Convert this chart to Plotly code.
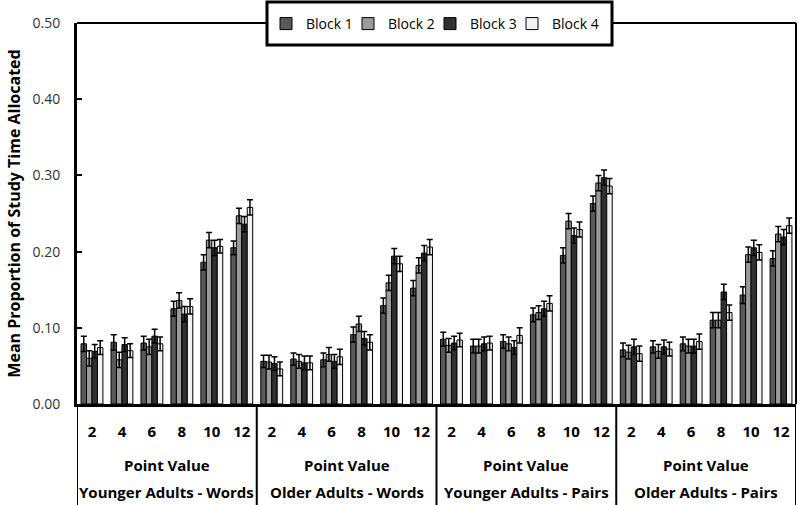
import plotly.graph_objects as go

point_values = [2, 4, 6, 8, 10, 12]
groups = ["Younger Adults - Words", "Older Adults - Words",
          "Younger Adults - Pairs", "Older Adults - Pairs"]
blocks = ["Block 1", "Block 2", "Block 3", "Block 4"]

block1 = [0.079, 0.081, 0.080, 0.125, 0.186, 0.205,
          0.056, 0.059, 0.058, 0.091, 0.129, 0.152,
          0.085, 0.076, 0.082, 0.117, 0.195, 0.263,
          0.071, 0.075, 0.079, 0.110, 0.143, 0.191]
block2 = [0.060, 0.058, 0.075, 0.136, 0.215, 0.247,
          0.055, 0.056, 0.065, 0.105, 0.159, 0.182,
          0.077, 0.076, 0.079, 0.120, 0.240, 0.290,
          0.068, 0.069, 0.076, 0.110, 0.196, 0.223]
block3 = [0.069, 0.078, 0.089, 0.118, 0.205, 0.236,
          0.053, 0.054, 0.056, 0.086, 0.194, 0.198,
          0.080, 0.079, 0.074, 0.125, 0.221, 0.297,
          0.075, 0.075, 0.076, 0.147, 0.205, 0.219]
block4 = [0.074, 0.070, 0.079, 0.128, 0.207, 0.258,
          0.046, 0.054, 0.062, 0.081, 0.184, 0.206,
          0.084, 0.080, 0.090, 0.132, 0.229, 0.286,
          0.066, 0.072, 0.082, 0.120, 0.199, 0.234]

err1 = [0.010, 0.010, 0.009, 0.010, 0.010, 0.009,
        0.008, 0.008, 0.009, 0.010, 0.010, 0.010,
        0.009, 0.009, 0.009, 0.009, 0.010, 0.010,
        0.009, 0.008, 0.009, 0.010, 0.011, 0.010]
err2 = [0.010, 0.010, 0.010, 0.010, 0.010, 0.010,
        0.009, 0.009, 0.009, 0.010, 0.010, 0.010,
        0.009, 0.009, 0.009, 0.009, 0.010, 0.010,
        0.009, 0.009, 0.009, 0.010, 0.010, 0.010]
err3 = [0.009, 0.009, 0.009, 0.010, 0.010, 0.010,
        0.009, 0.009, 0.009, 0.009, 0.010, 0.010,
        0.009, 0.009, 0.009, 0.010, 0.010, 0.010,
        0.010, 0.009, 0.009, 0.010, 0.010, 0.010]
err4 = [0.009, 0.009, 0.009, 0.010, 0.009, 0.010,
        0.009, 0.009, 0.010, 0.010, 0.010, 0.010,
        0.009, 0.009, 0.010, 0.010, 0.010, 0.010,
        0.010, 0.009, 0.010, 0.010, 0.010, 0.010]

series = [block1, block2, block3, block4]
errors = [err1, err2, err3, err4]
colors = ["#595959", "#9b9b9b", "#303030", "#f2f2f2"]

n_pts = len(point_values)
x_idx = list(range(len(groups) * n_pts))
tick_text = [str(p) for _ in groups for p in point_values]

FONT = "Open Sans"

W, H = 800, 505
ML, MR, MT, MB = 77, 4, 23, 101
PW, PH = W - ML - MR, H - MT - MB


def px_x(px):
    return (px - ML) / PW


def px_y(py):
    return (H - MB - py) / PH


fig = go.Figure()
for i, (name, vals, err, col) in enumerate(zip(blocks, series, errors, colors)):
    fig.add_trace(go.Bar(
        x=x_idx, y=vals, name=name,
        legendwidth=52 if i == len(blocks) - 1 else 37,
        marker=dict(color=col, line=dict(color="#000000", width=1)),
        error_y=dict(type="data", array=err, visible=True,
                     color="#000000", thickness=1.5, width=3),
    ))

n = len(x_idx)
shapes = []
# top and right frame
shapes.append(dict(type="line", xref="paper", yref="paper", x0=0, x1=1, y0=1, y1=1,
                   line=dict(color="black", width=2)))
shapes.append(dict(type="line", xref="paper", yref="paper", x0=1, x1=1, y0=0, y1=1,
                   line=dict(color="black", width=2)))
# group separators below the axis
for k in range(len(groups) + 1):
    xpos = k * n_pts - 0.5
    shapes.append(dict(type="line", xref="x", yref="paper", x0=xpos, x1=xpos,
                       y0=0, y1=px_y(H + 2), line=dict(color="black", width=2)))
# legend box
shapes.append(dict(type="rect", xref="paper", yref="paper", layer="above",
                   x0=px_x(267), x1=px_x(612), y0=px_y(45), y1=px_y(2),
                   fillcolor="white", line=dict(color="black", width=3)))

annotations = []
for k, g in enumerate(groups):
    xc = k * n_pts + (n_pts - 1) / 2
    annotations.append(dict(x=xc, xref="x", y=px_y(465), yref="paper",
                            text="<b>Point Value</b>", showarrow=False,
                            font=dict(family=FONT, size=15, color="black"),
                            yanchor="middle"))
    annotations.append(dict(x=xc, xref="x", y=px_y(492), yref="paper",
                            text="<b>" + g + "</b>", showarrow=False,
                            font=dict(family=FONT, size=15, color="black"),
                            yanchor="middle"))

fig.update_layout(
    width=W, height=H,
    margin=dict(l=ML, r=MR, t=MT, b=MB, autoexpand=False),
    paper_bgcolor="white", plot_bgcolor="white",
    barmode="group", bargap=0.27, bargroupgap=0,
    font=dict(family=FONT, color="black"),
    showlegend=True,
    legend=dict(orientation="h", x=px_x(437.5), xanchor="center",
                y=px_y(24), yanchor="middle",
                bgcolor="rgba(0,0,0,0)", borderwidth=0,
                font=dict(family=FONT, size=14, color="black"),
                itemwidth=30, entrywidth=37, entrywidthmode="pixels",
                traceorder="normal"),
    xaxis=dict(range=[-0.5, n - 0.5], tickmode="array", tickvals=x_idx,
               ticktext=["<b>" + t + "</b>" for t in tick_text],
               tickfont=dict(family=FONT, size=15, color="black"),
               showline=True, linecolor="black", linewidth=3,
               ticks="", showgrid=False, zeroline=False,
               ticklabelstandoff=12, automargin=False),
    yaxis=dict(range=[0, 0.5], tickmode="array",
               tickvals=[0, 0.1, 0.2, 0.3, 0.4, 0.5],
               ticktext=["0.00", "0.10", "0.20", "0.30", "0.40", "0.50"],
               tickfont=dict(family=FONT, size=14, color="#333333"),
               showline=True, linecolor="black", linewidth=3,
               ticks="inside", ticklen=5, tickwidth=1.5, tickcolor="black",
               showgrid=False, zeroline=False, ticklabelstandoff=11,
               automargin=False,
               title=dict(text="<b>Mean Proportion of Study Time Allocated</b>",
                          font=dict(family=FONT, size=16, color="black"),
                          standoff=8)),
    shapes=shapes, annotations=annotations,
)

fig.write_html("out.html",
               config={"displayModeBar": False},
               post_script="document.body.style.margin='0';"
                           "document.documentElement.style.margin='0';")
